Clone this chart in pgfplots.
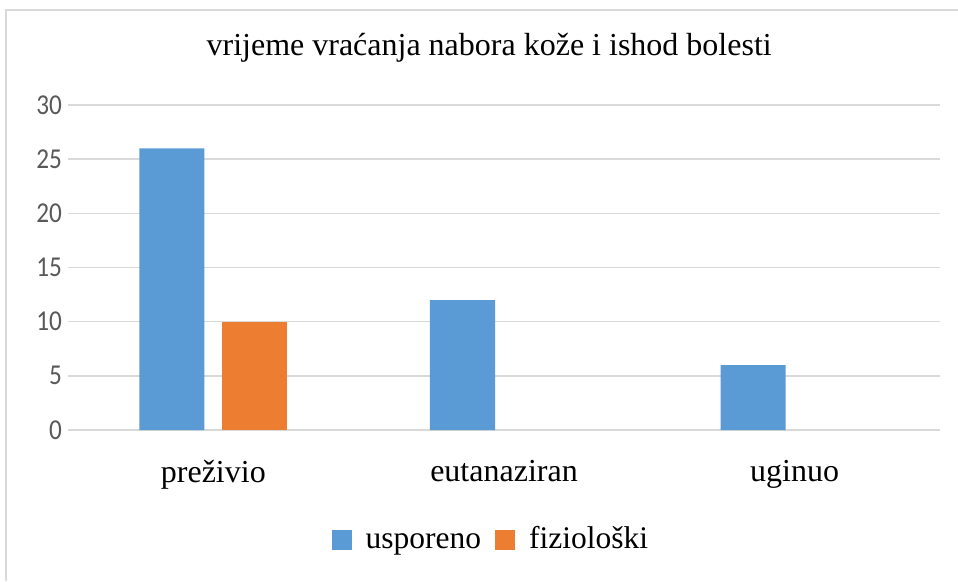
\documentclass[border=0pt]{standalone}
\usepackage{pgfplots}
\pgfplotsset{compat=1.18}
\usepackage{fontspec}
\setmainfont{Liberation Serif}
\newfontfamily\calibri{Carlito}
\definecolor{bblue}{HTML}{5B9BD5}
\definecolor{borange}{HTML}{ED7D31}
\definecolor{gridc}{HTML}{D9D9D9}
\definecolor{tickc}{HTML}{595959}
\begin{document}
\begin{tikzpicture}
\useasboundingbox (0pt,0pt) rectangle (958pt,581pt);
\fill[white] (0pt,0pt) rectangle (958pt,581pt);
\draw[gridc, line width=2pt] (6pt,0pt) -- (6pt,571pt) -- (958pt,571pt);
\begin{axis}[
  at={(68pt,151pt)}, anchor=south west,
  scale only axis, width=872pt, height=325pt,
  xmin=-0.5, xmax=2.5, ymin=0, ymax=30,
  ytick={0,5,...,30},
  yticklabel={\scalebox{1.05}[1.2]{\pgfmathprintnumber{\tick}}},
  xtick={0,1,2}, xticklabels={preživio, eutanaziran, uginuo},
  axis line style={draw=none}, major tick length=0pt,
  ymajorgrids, grid style={gridc, line width=1.5pt},
  /pgf/number format/assume math mode=true,
  yticklabel style={font=\calibri\fontsize{24}{24}\selectfont, text=tickc, inner sep=0pt, xshift=-6pt},
  xticklabel style={font=\fontsize{32}{32}\selectfont, inner sep=0pt, yshift=-30pt},
  title={vrijeme vraćanja nabora kože i ishod bolesti},
  title style={font=\fontsize{32}{32}\selectfont, at={(0.483,1)}, anchor=base, yshift=43pt, inner sep=0pt},
  ybar, bar width=0.224,
  legend style={draw=none, at={(0.485,-0.3415)}, anchor=center, font=\fontsize{31.5}{31.5}\selectfont,
    nodes={text height=24pt, text depth=8pt, anchor=base},
    /tikz/every odd column/.append style={column sep=12pt},
    /tikz/every even column/.append style={column sep=12pt}},
  legend columns=2,
  legend image code/.code={\fill[#1] (0pt,-1pt) rectangle (20pt,19pt);},
]
\addplot[fill=bblue, draw=none, bar shift=-0.1428] coordinates {(0,26) (1,12) (2,6)};
\addplot[fill=borange, draw=none, bar shift=0.1428] coordinates {(0,10)};
\legend{usporeno, fiziološki}
\end{axis}
\end{tikzpicture}
\end{document}
